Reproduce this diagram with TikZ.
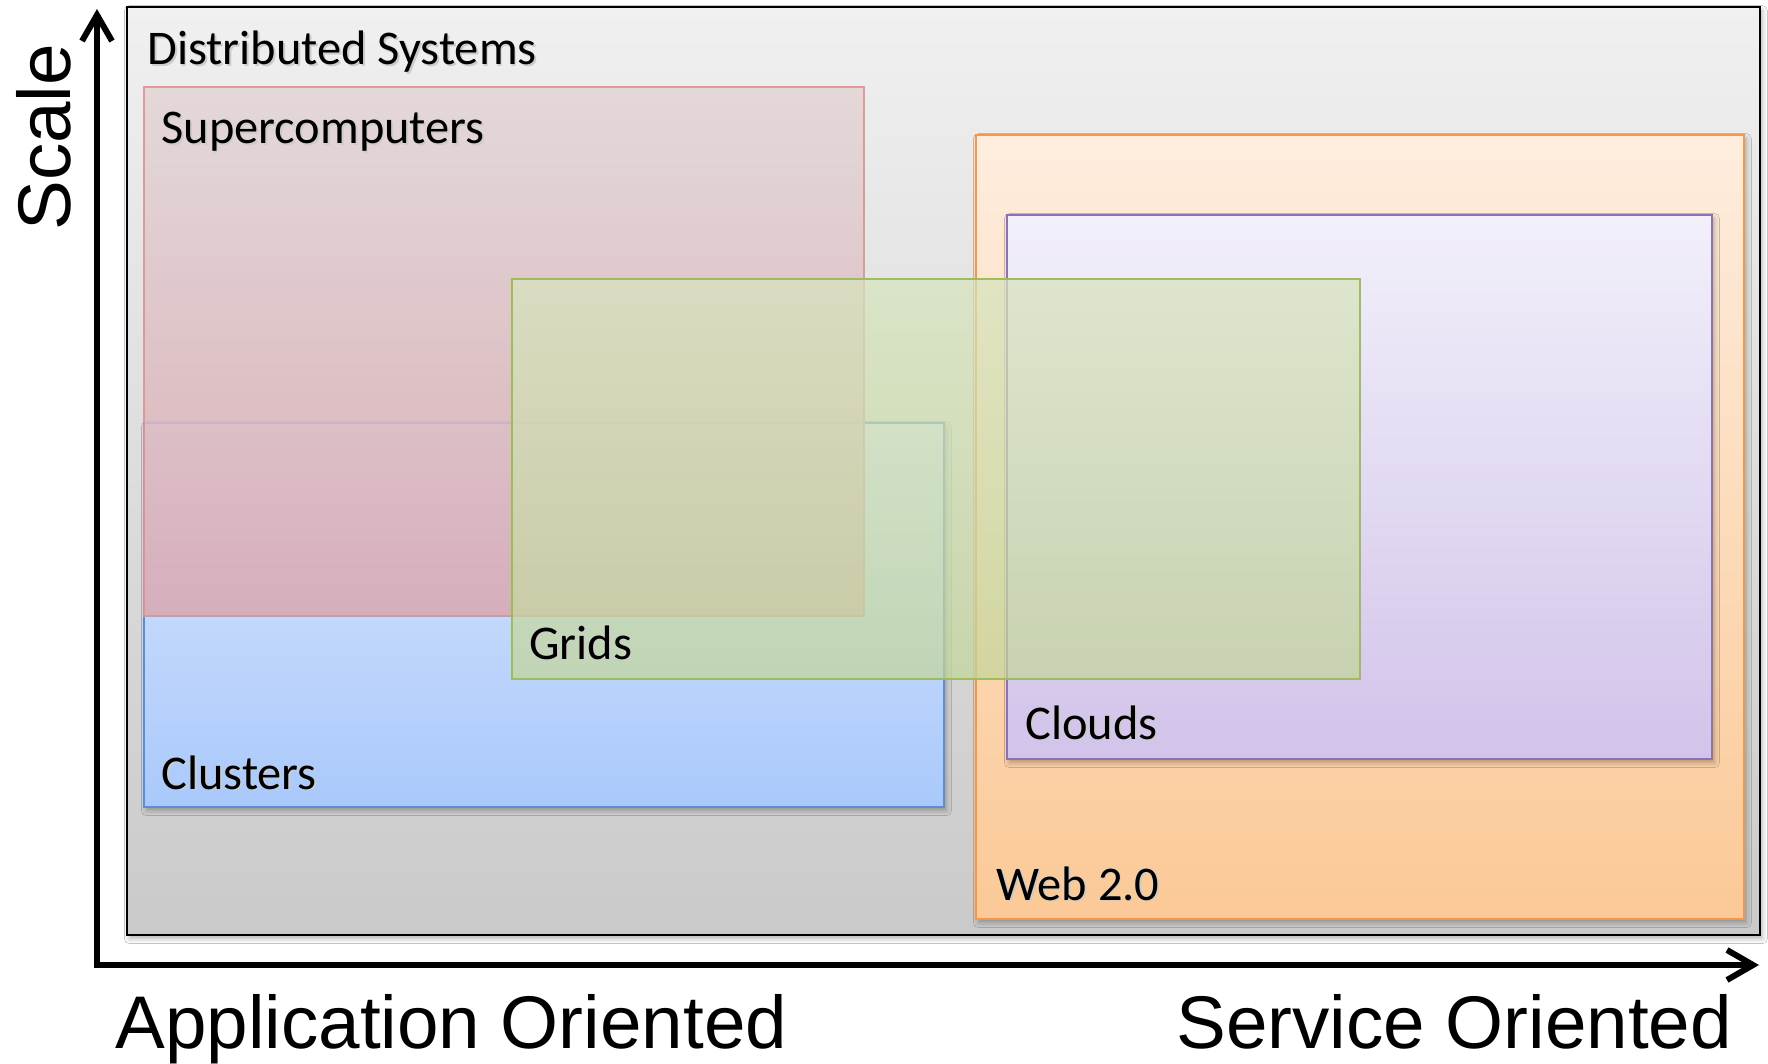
\documentclass[tikz,border=0pt]{standalone}
\usepackage{fontspec}
\setmainfont{Carlito}
\newfontfamily\axisfont{Liberation Sans}
\usetikzlibrary{arrows.meta,shadows.blur}

% region colours (top / bottom of each gradient, and outline)
\definecolor{dsTop}{HTML}{F0F0F0}
\definecolor{dsBot}{HTML}{CACACA}
\definecolor{scTop}{HTML}{E3D6D6}
\definecolor{scBot}{HTML}{D9A9B3}
\definecolor{scLine}{HTML}{D99594}
\definecolor{clTop}{HTML}{DCE7FE}
\definecolor{clBot}{HTML}{A9C9FB}
\definecolor{clLine}{HTML}{5B8ED4}
\definecolor{grTop}{HTML}{D7E4BD}
\definecolor{grBot}{HTML}{C3D69B}
\definecolor{grLine}{HTML}{9BBB59}
\definecolor{wbTop}{HTML}{FEEDDE}
\definecolor{wbBot}{HTML}{FBC997}
\definecolor{wbLine}{HTML}{F79646}
\definecolor{cdTop}{HTML}{F2F0FA}
\definecolor{cdBot}{HTML}{D2C3EA}
\definecolor{cdLine}{HTML}{8C72B0}

% label text with a faint offset shadow behind it
\newcommand{\shadowedtext}[1]{\makebox[0pt][l]{\hspace{0.9pt}\raisebox{-0.9pt}{\color{black!20}#1}}#1}

\begin{document}
\begin{tikzpicture}[x=0.5pt,y=-0.5pt,
  region/.style={line width=1pt},
  lbl/.style={anchor=base west, inner sep=0pt, font=\fontsize{24.2}{28}\selectfont},
  axislbl/.style={anchor=base west, inner sep=0pt, font=\axisfont\fontsize{37.3}{41}\selectfont},
  axisline/.style={line width=3pt, line join=miter,
    {Straight Barb[length=13pt,width=15pt]}-{Straight Barb[length=13pt,width=15pt]}},
  softshadow/.style={blur shadow={shadow xshift=1.2pt,shadow yshift=-1.8pt,
    shadow blur radius=2.5pt,shadow opacity=30}}
]
\useasboundingbox (0,0) rectangle (1768,1064);
\fill[white] (0,0) rectangle (1768,1064);

% Distributed Systems frame
\draw[line width=1.4pt, top color=dsTop, bottom color=dsBot, softshadow]
  (127,7) rectangle (1760,935);

% Clusters
\draw[region, draw=clLine, top color=clTop, bottom color=clBot, softshadow]
  (144,423) rectangle (944,807);

% Supercomputers (slightly see-through over Clusters)
\draw[region, draw=scLine, top color=scTop, bottom color=scBot,
  fill opacity=0.88, draw opacity=0.9]
  (144,87) rectangle (864,616);

% Web 2.0
\draw[region, draw=wbLine, top color=wbTop, bottom color=wbBot, softshadow]
  (976,135) rectangle (1744,919);

% Clouds
\draw[region, draw=cdLine, top color=cdTop, bottom color=cdBot, softshadow]
  (1007,215) rectangle (1712,759);

% Grids (translucent, on top)
\draw[region, draw=grLine, top color=grTop, bottom color=grBot,
  fill opacity=0.72, draw opacity=0.95]
  (512,279) rectangle (1360,679);

% labels
\node[lbl] (ds)    at (147,65)  {\shadowedtext{Distributed Systems}};
\node[lbl] (super) at (161,144) {\shadowedtext{Supercomputers}};
\node[lbl] (clus)  at (161,789) {\shadowedtext{Clusters}};
\node[lbl] (grids) at (529,659) {\shadowedtext{Grids}};
\node[lbl] (cloud) at (1025,739) {\shadowedtext{Clouds}};
\node[lbl] (web)   at (996,900) {\shadowedtext{Web 2.0}};

% axes
\coordinate (origin) at (97,965);
\coordinate (ytip) at (97,9);
\coordinate (xtip) at (1759,965);
\draw[axisline] (ytip) -- (origin) -- (xtip);

\node[axislbl, rotate=90] (scale) at (70,231) {Scale};
\node[axislbl] (appl) at (115,1048) {Application Oriented};
\node[axislbl] (serv) at (1176,1048) {Service Oriented};
\end{tikzpicture}
\end{document}
